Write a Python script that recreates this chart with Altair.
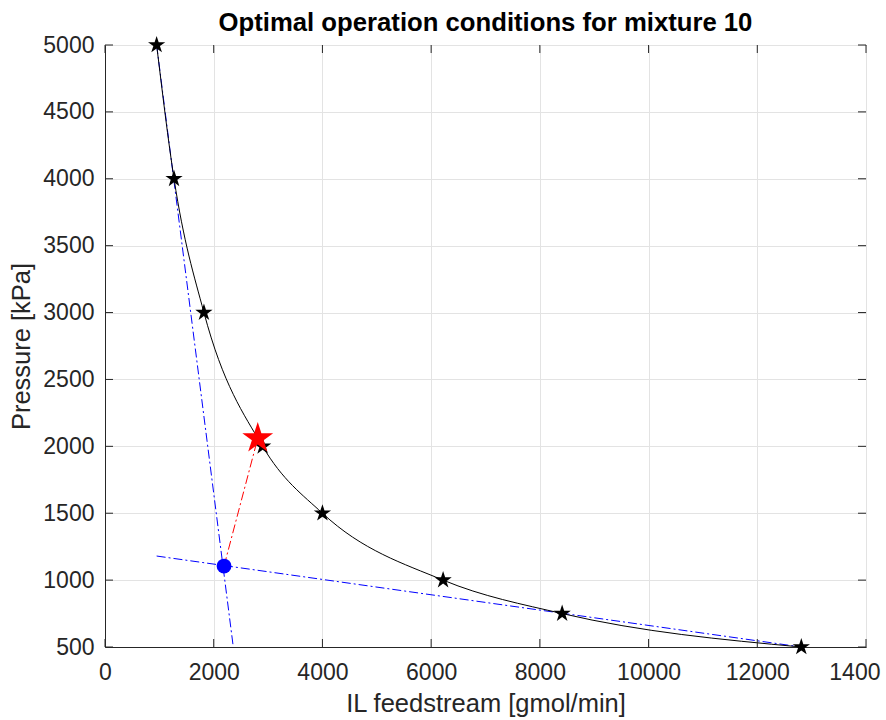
import altair as alt
import pandas as pd

# ---- data ----
curve_x = [950, 1270, 1820, 2900, 4000, 6220, 8410, 12810]
curve_p = [5000, 4000, 3000, 2000, 1500, 1000, 750, 500]

tan1_x = [950, 2360]
tan1_p = [5000, 500]
tan2_x = [950, 12810]
tan2_p = [1180, 500]
link_x = [2190, 2810]
link_p = [1105, 2060]
inter_x = [2190]
inter_p = [1105]
opt_x = [2810]
opt_p = [2060]

x_ticks = [0, 2000, 4000, 6000, 8000, 10000, 12000, 14000]
y_ticks = [500, 1000, 1500, 2000, 2500, 3000, 3500, 4000, 4500, 5000]

W, H = 761, 602
FONT = "Liberation Sans"
INK = "#262626"
STAR = ("M0,-1L0.225,-0.309L0.951,-0.309L0.363,0.118L0.588,0.809L0,0.382"
        "L-0.588,0.809L-0.363,0.118L-0.951,-0.309L-0.225,-0.309Z")
DASHDOT = [9, 3, 2, 3]

xs = alt.Scale(domain=[0, 14000], nice=False, zero=False)
ys = alt.Scale(domain=[500, 5000], nice=False, zero=False)

curve = pd.DataFrame({"x": curve_x, "p": curve_p})
tan1 = pd.DataFrame({"x": tan1_x, "p": tan1_p})
tan2 = pd.DataFrame({"x": tan2_x, "p": tan2_p})
link = pd.DataFrame({"x": link_x, "p": link_p})
inter = pd.DataFrame({"x": inter_x, "p": inter_p})
opt = pd.DataFrame({"x": opt_x, "p": opt_p})
xt = pd.DataFrame({"x": x_ticks})
yt = pd.DataFrame({"p": y_ticks})

# the reference shows the last x label cut to "1400" at the right edge
LAST = "datum.value == 14000"
x_axis = alt.Axis(values=x_ticks, grid=True, ticks=False, title="IL feedstream [gmol/min]",
                  labelPadding=14, titlePadding=7, format="d", labelFlush=False, labelOverlap=False,
                  labelExpr="datum.value == 14000 ? '1400' : datum.label",
                  labelAlign={"condition": {"test": LAST, "value": "right"}, "value": "center"},
                  labelOffset={"condition": {"test": LAST, "value": 14}, "value": 0})
y_axis = alt.Axis(values=y_ticks, grid=True, ticks=False, title="Pressure [kPa]",
                  labelPadding=11, titlePadding=8, format="d", labelFlush=False, labelOverlap=False)

X = alt.X("x:Q", scale=xs, axis=x_axis)
Y = alt.Y("p:Q", scale=ys, axis=y_axis)

l_curve = alt.Chart(curve).mark_line(color="black", strokeWidth=1, interpolate="monotone", clip=True).encode(x=X, y=Y)
l_tan1 = alt.Chart(tan1).mark_line(color="#0000ff", strokeWidth=1, strokeDash=DASHDOT, clip=True).encode(x=X, y=Y)
l_tan2 = alt.Chart(tan2).mark_line(color="#0000ff", strokeWidth=1, strokeDash=DASHDOT, clip=True).encode(x=X, y=Y)
l_link = alt.Chart(link).mark_line(color="#ff0000", strokeWidth=1, strokeDash=DASHDOT, clip=True).encode(x=X, y=Y)
stars = alt.Chart(curve).mark_point(shape=STAR, filled=True, color="black", size=330, opacity=1).encode(x=X, y=Y)
dot = alt.Chart(inter).mark_point(shape="circle", filled=True, color="#0000ff", size=220, opacity=1).encode(x=X, y=Y)
ostar = alt.Chart(opt).mark_point(shape=STAR, filled=True, color="#ff0000", size=1050, opacity=1).encode(x=X, y=Y)

# inward MATLAB-style ticks on all four sides
tb = alt.Chart(xt).mark_rule(color=INK, strokeWidth=1).encode(x=X, y=alt.value(H), y2=alt.value(H - 8))
tt = alt.Chart(xt).mark_rule(color=INK, strokeWidth=1).encode(x=X, y=alt.value(0), y2=alt.value(8))
tl = alt.Chart(yt).mark_rule(color=INK, strokeWidth=1).encode(y=Y, x=alt.value(0), x2=alt.value(8))
tr = alt.Chart(yt).mark_rule(color=INK, strokeWidth=1).encode(y=Y, x=alt.value(W), x2=alt.value(W - 8))

chart = alt.layer(
    l_tan1, l_tan2, l_link, l_curve, stars, dot, ostar, tb, tt, tl, tr
).properties(
    width=W, height=H,
    autosize="none",
    padding={"left": 105, "top": 45, "right": 20, "bottom": 73},
    title=alt.TitleParams("Optimal operation conditions for mixture 10", font=FONT, fontSize=25.7,
                          fontWeight="bold", color="black", anchor="middle", offset=-3),
    background="white",
).configure_view(
    stroke=INK, strokeWidth=1
).configure_axis(
    labelFont=FONT, titleFont=FONT, labelFontSize=23, titleFontSize=25.5, titleFontWeight="normal",
    labelColor=INK, titleColor=INK, domainColor=INK, domainWidth=1,
    gridColor="#e3e3e3", gridWidth=1, gridOpacity=1,
)

chart.save("out.html", embed_options={"renderer": "svg", "actions": False})
